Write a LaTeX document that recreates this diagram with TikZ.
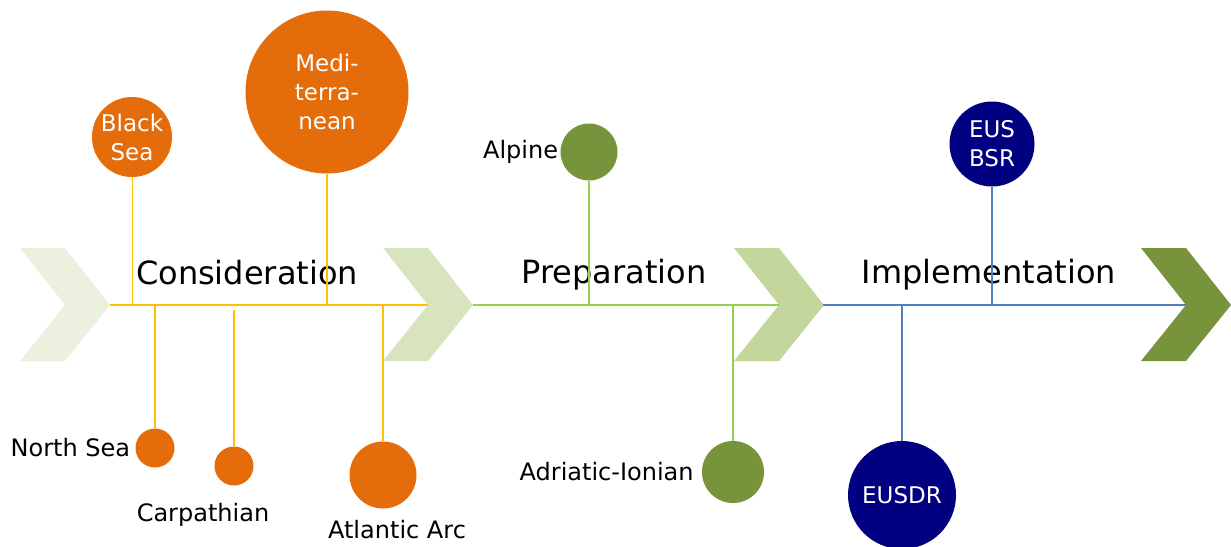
\documentclass[tikz,border=0pt]{standalone}
\usepackage{fontspec}
\setmainfont{DejaVu Sans}
\usepackage{xcolor}
\usetikzlibrary{positioning}
\definecolor{chevpale}{HTML}{EBF1DE}
\definecolor{chevlight}{HTML}{D7E4BD}
\definecolor{chevmid}{HTML}{C3D69B}
\definecolor{leafgreen}{HTML}{77933C}
\definecolor{seaorange}{HTML}{E46C0A}
\definecolor{linegold}{HTML}{FFC000}
\definecolor{linegreen}{HTML}{92D050}
\definecolor{lineblue}{HTML}{4F81BD}
\definecolor{eunavy}{HTML}{000080}

\tikzset{
    region/.style={circle, inner sep=0pt, text=white, align=center,
        font=\fontsize{23}{29}\selectfont},
    outlabel/.style={inner sep=0pt, font=\fontsize{24}{29}\selectfont},
    stage/.style={inner sep=0pt, font=\fontsize{32}{38}\selectfont},
    spine/.style={line width=2pt},
}
\newcommand{\chevronat}[2]{%
    \fill[#2] (#1,248) -- ++(45,0) -- ++(45,57) -- ++(-45,56) -- ++(-45,0) -- ++(45,-56) -- cycle;}

\begin{document}
\begin{tikzpicture}[x=1pt, y=-1pt]
    \useasboundingbox (0,0) rectangle (1231,546);

    \chevronat{20}{chevpale}
    \chevronat{383}{chevlight}
    \chevronat{734}{chevmid}
    \chevronat{1141}{leafgreen}

    \coordinate (tipA) at (110,305);
    \coordinate (notchB) at (428,305);
    \coordinate (tipB) at (473,305);
    \coordinate (notchC) at (779,305);
    \coordinate (tipC) at (823,305);
    \coordinate (notchD) at (1186,305);

    \draw[spine, linegold] (tipA) -- (notchB);
    \draw[spine, linegreen] (tipB) -- (notchC);
    \draw[spine, lineblue] (tipC) -- (notchD);

    \node[stage] (consid) at (247,273) {Consideration};
    \node[stage] (prep) at (614,275) {Preparation};
    \node[stage] (impl) at (989,275) {Implementation};

    \node[region, fill=seaorange, minimum size=80pt] (blacksea) at (132,137) {Black\\Sea};
    \node[region, fill=seaorange, minimum size=163pt] (medi) at (327,92) {Medi-\\terra-\\nean};
    \node[region, fill=seaorange, minimum size=39pt] (northsea) at (155,448) {};
    \node[region, fill=seaorange, minimum size=39pt] (carpath) at (234,466) {};
    \node[region, fill=seaorange, minimum size=67pt] (atlantic) at (383,475) {};
    \node[region, fill=leafgreen, minimum size=57pt] (alpine) at (589,152) {};
    \node[region, fill=leafgreen, minimum size=62pt] (adriatic) at (733,472) {};
    \node[region, fill=eunavy, minimum size=85pt] (eusbsr) at (992,144) {EUS\\BSR};
    \node[region, fill=eunavy, minimum size=108pt] (eusdr) at (902,495) {EUSDR};

    \node[outlabel, left=5pt of northsea] (nslabel) {North Sea};
    \node[outlabel] (carplabel) at (203,515) {Carpathian};
    \node[outlabel] (atlabel) at (397,530) {Atlantic Arc};
    \node[outlabel, left=2pt of alpine] (alplabel) {Alpine};
    \node[outlabel, left=8pt of adriatic] (adrlabel) {Adriatic-Ionian};

    \draw[linegold, line width=1pt] (blacksea) -- (blacksea |- tipA);
    \draw[linegold, line width=2pt] (medi) -- (medi |- tipA);
    \draw[linegold, line width=2pt] (northsea) -- (northsea |- tipA);
    \draw[linegold, line width=2pt] (carpath) -- ([yshift=-5pt]carpath |- tipA);
    \draw[linegold, line width=2pt] (atlantic) -- (atlantic |- tipA);
    \draw[linegreen, line width=1.3pt] (alpine) -- (alpine |- tipB);
    \draw[linegreen, line width=1.2pt] (adriatic) -- (adriatic |- tipB);
    \draw[lineblue, line width=1.3pt] (eusbsr) -- (eusbsr |- tipC);
    \draw[lineblue, line width=1.2pt] (eusdr) -- (eusdr |- tipC);
\end{tikzpicture}
\end{document}
